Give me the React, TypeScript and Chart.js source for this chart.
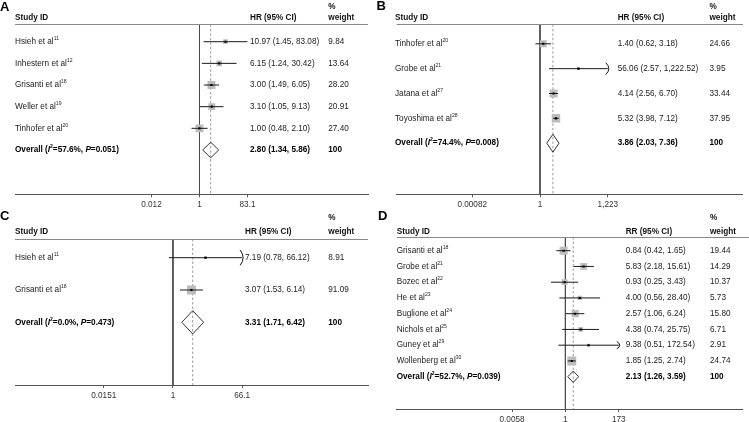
import React, { useEffect, useRef } from "react";
import { Chart, registerables } from "chart.js";

Chart.register(...registerables);

const FONT = '"Liberation Sans", Arial, Helvetica, sans-serif';
const FS = 8.2;

// ---------- Panel A ----------
const namesA = ["Hsieh et al", "Inhestern et al", "Grisanti et al", "Weller et al", "Tinhofer et al"];
const refsA = ["11", "12", "18", "19", "20"];
const estA = [10.97, 6.15, 3.0, 3.1, 1.0];
const lowA = [1.45, 1.24, 1.49, 1.05, 0.48];
const highA = [83.08, 30.42, 6.05, 9.13, 2.1];
const weightA = [9.84, 13.64, 28.2, 20.91, 27.4];
const arrowA = [false, false, false, false, false];
const overallA = [2.8, 1.34, 5.86];
const i2A = "57.6%";
const pA = "0.051";
const ticksA = [0.012, 1, 83.1];
const tickLabelsA = ["0.012", "1", "83.1"];

// ---------- Panel B ----------
const namesB = ["Tinhofer et al", "Grobe et al", "Jatana et al", "Toyoshima et al"];
const refsB = ["20", "21", "27", "28"];
const estB = [1.4, 56.06, 4.14, 5.32];
const lowB = [0.62, 2.57, 2.56, 3.98];
const highB = [3.18, 1222.52, 6.7, 7.12];
const weightB = [24.66, 3.95, 33.44, 37.95];
const arrowB = [false, true, false, false];
const overallB = [3.86, 2.03, 7.36];
const i2B = "74.4%";
const pB = "0.008";
const ticksB = [0.00082, 1, 1223];
const tickLabelsB = ["0.00082", "1", "1,223"];

// ---------- Panel C ----------
const namesC = ["Hsieh et al", "Grisanti et al"];
const refsC = ["11", "18"];
const estC = [7.19, 3.07];
const lowC = [0.78, 1.53];
const highC = [66.12, 6.14];
const weightC = [8.91, 91.09];
const arrowC = [true, false];
const overallC = [3.31, 1.71, 6.42];
const i2C = "0.0%";
const pC = "0.473";
const ticksC = [0.0151, 1, 66.1];
const tickLabelsC = ["0.0151", "1", "66.1"];

// ---------- Panel D ----------
const namesD = ["Grisanti et al", "Grobe et al", "Bozec et al", "He et al", "Buglione et al", "Nichols et al", "Guney et al", "Wollenberg et al"];
const refsD = ["18", "21", "22", "23", "24", "25", "29", "30"];
const estD = [0.84, 5.83, 0.93, 4.0, 2.57, 4.38, 9.38, 1.85];
const lowD = [0.42, 2.18, 0.25, 0.56, 1.06, 0.74, 0.51, 1.25];
const highD = [1.65, 15.61, 3.43, 28.4, 6.24, 25.75, 172.54, 2.74];
const weightD = [19.44, 14.29, 10.37, 5.73, 15.8, 6.71, 2.91, 24.74];
const arrowD = [false, false, false, false, false, false, true, false];
const overallD = [2.13, 1.26, 3.59];
const i2D = "52.7%";
const pD = "0.039";
const ticksD = [0.0058, 1, 173];
const tickLabelsD = ["0.0058", "1", "173"];

type Panel = {
  letter: string; measure: string; names: string[]; refs: string[];
  est: number[]; low: number[]; high: number[]; weight: number[]; arrow: boolean[];
  overall: number[]; i2: string; pval: string; ticks: number[]; tickLabels: string[];
};

const panels: Panel[] = [
  { letter: "A", measure: "HR (95% CI)", names: namesA, refs: refsA, est: estA, low: lowA, high: highA, weight: weightA, arrow: arrowA, overall: overallA, i2: i2A, pval: pA, ticks: ticksA, tickLabels: tickLabelsA },
  { letter: "B", measure: "HR (95% CI)", names: namesB, refs: refsB, est: estB, low: lowB, high: highB, weight: weightB, arrow: arrowB, overall: overallB, i2: i2B, pval: pB, ticks: ticksB, tickLabels: tickLabelsB },
  { letter: "C", measure: "HR (95% CI)", names: namesC, refs: refsC, est: estC, low: lowC, high: highC, weight: weightC, arrow: arrowC, overall: overallC, i2: i2C, pval: pC, ticks: ticksC, tickLabels: tickLabelsC },
  { letter: "D", measure: "RR (95% CI)", names: namesD, refs: refsD, est: estD, low: lowD, high: highD, weight: weightD, arrow: arrowD, overall: overallD, i2: i2D, pval: pD, ticks: ticksD, tickLabels: tickLabelsD },
];

type Layout = {
  left: number; top: number; w: number; h: number;
  letterX: number; letterY: number; headY: number; pctY: number;
  headLineY: number; headLineRight: number; firstRow: number; rowStep: number; axisY: number;
  xLeft: number; xRight: number; x1: number; ppd: number;
  colLabel: number; colHR: number; colWt: number; boxMax: number;
};

const layouts: Layout[] = [
  { left: 0, top: 0, w: 375, h: 211, letterX: 0, letterY: 7, headY: 17.5, pctY: 6.5, headLineY: 24.3, headLineRight: 368, firstRow: 41.7, rowStep: 21.66, axisY: 194.3, xLeft: 15, xRight: 368, x1: 199.5, ppd: 25, colLabel: 15, colHR: 250, colWt: 328.3, boxMax: 8 },
  { left: 375, top: 0, w: 374, h: 211, letterX: 1.5, letterY: 6.5, headY: 17.5, pctY: 6.5, headLineY: 24.3, headLineRight: 368, firstRow: 43.8, rowStep: 24.85, axisY: 194.3, xLeft: 21.7, xRight: 374, x1: 167.5, ppd: 22.35, colLabel: 20, colHR: 242.7, colWt: 334.5, boxMax: 8.5 },
  { left: 0, top: 211, w: 375, h: 211, letterX: 0, letterY: 5.5, headY: 20.5, pctY: 7, headLineY: 28, headLineRight: 368, firstRow: 46.7, rowStep: 32.3, axisY: 174, xLeft: 15, xRight: 368, x1: 172.5, ppd: 38.1, colLabel: 15, colHR: 245, colWt: 328.3, boxMax: 9 },
  { left: 375, top: 211, w: 374, h: 211, letterX: 3, letterY: 5, headY: 20.5, pctY: 7, headLineY: 26, headLineRight: 374, firstRow: 39.7, rowStep: 15.75, axisY: 198, xLeft: 21.7, xRight: 374, x1: 193.5, ppd: 24.3, colLabel: 21.7, colHR: 250.7, colWt: 335, boxMax: 9 },
];

const fmt = (v: number) =>
  v.toLocaleString("en-US", { minimumFractionDigits: 2, maximumFractionDigits: 2 });

type Seg = { t: string; it?: boolean; sup?: boolean };
function drawRich(ctx: CanvasRenderingContext2D, segs: Seg[], x: number, y: number, bold: boolean) {
  let cx = x;
  for (const s of segs) {
    const sz = s.sup ? FS * 0.62 : FS;
    ctx.font = `${s.it ? "italic " : ""}${bold ? "bold " : ""}${sz}px ${FONT}`;
    ctx.fillText(s.t, cx, s.sup ? y - FS * 0.38 : y);
    cx += ctx.measureText(s.t).width;
  }
}

function makeChart(canvas: HTMLCanvasElement, P: Panel, L: Layout) {
  const n = P.est.length;
  const oRow = n + 1;
  const yMin = 1 - (L.firstRow - L.headLineY) / L.rowStep;
  const yMax = 1 + (L.axisY - L.firstRow) / L.rowStep;
  const xMin = Math.pow(10, (L.xLeft - L.x1) / L.ppd);
  const xMax = Math.pow(10, (L.xRight - L.x1) / L.ppd);
  const wMax = Math.max(...P.weight);
  const [oEst, oLow, oHigh] = P.overall;
  const dh = 0.36;

  const ciSets = P.est.map((_, i) => ({
    data: [{ x: P.low[i], y: i + 1 }, { x: P.high[i], y: i + 1 }],
    showLine: true, borderColor: "#1a1a1a", borderWidth: 1, pointRadius: 0,
  }));

  const datasets: any[] = [
    {
      data: P.est.map((e, i) => ({ x: e, y: i + 1 })),
      showLine: false, pointStyle: "rect", pointRadius: 1.5,
      pointBackgroundColor: "#000", backgroundColor: "#000", pointBorderWidth: 0,
    },
    {
      data: [
        { x: oLow, y: oRow }, { x: oEst, y: oRow - dh }, { x: oHigh, y: oRow },
        { x: oEst, y: oRow + dh }, { x: oLow, y: oRow },
      ],
      showLine: true, borderColor: "#333", borderWidth: 1, pointRadius: 0, fill: false, tension: 0,
    },
    ...ciSets,
    {
      data: P.est.map((e, i) => ({ x: e, y: i + 1 })),
      showLine: false, pointStyle: "rect",
      pointRadius: P.weight.map((w) => (L.boxMax * Math.sqrt(w / wMax)) / Math.SQRT2),
      pointBackgroundColor: "#bcbcbc", backgroundColor: "#bcbcbc", pointBorderWidth: 0,
    },
    {
      data: [{ x: oEst, y: yMin }, { x: oEst, y: yMax }],
      showLine: true, borderColor: "#9a9a9a", borderWidth: 1, borderDash: [2.5, 2], pointRadius: 0,
    },
    {
      data: [{ x: 1, y: yMin }, { x: 1, y: yMax }],
      showLine: true, borderColor: "#4a4a4a", borderWidth: 1, pointRadius: 0,
    },
  ];

  const textPlugin = {
    id: "forestText" + P.letter,
    afterDraw(chart: any) {
      const ctx: CanvasRenderingContext2D = chart.ctx;
      const xs = chart.scales.x;
      const ys = chart.scales.y;
      ctx.save();
      ctx.textBaseline = "middle";
      ctx.textAlign = "left";
      ctx.fillStyle = "#000";
      ctx.font = `bold 13px ${FONT}`;
      ctx.fillText(P.letter, L.letterX, L.letterY);
      ctx.font = `bold ${FS}px ${FONT}`;
      ctx.fillStyle = "#111";
      ctx.fillText("Study ID", L.colLabel, L.headY);
      ctx.fillText(P.measure, L.colHR, L.headY);
      ctx.fillText("%", L.colWt, L.pctY);
      ctx.fillText("weight", L.colWt, L.headY);
      const hy = Math.round(L.headLineY) + 0.5;
      ctx.strokeStyle = "#888";
      ctx.lineWidth = 1;
      ctx.beginPath();
      ctx.moveTo(L.xLeft, hy);
      ctx.lineTo(L.headLineRight, hy);
      ctx.stroke();

      ctx.fillStyle = "#222";
      P.names.forEach((nm, i) => {
        const y = ys.getPixelForValue(i + 1);
        drawRich(ctx, [{ t: nm }, { t: P.refs[i], sup: true }], L.colLabel, y, false);
        ctx.font = `${FS}px ${FONT}`;
        ctx.fillText(`${fmt(P.est[i])} (${fmt(P.low[i])}, ${fmt(P.high[i])})`, L.colHR, y);
        ctx.fillText(P.weight[i].toFixed(2), L.colWt, y);
      });
      const oy = ys.getPixelForValue(oRow);
      ctx.fillStyle = "#000";
      drawRich(ctx, [
        { t: "Overall (" }, { t: "I", it: true }, { t: "2", sup: true },
        { t: `=${P.i2}, ` }, { t: "P", it: true }, { t: `=${P.pval})` },
      ], L.colLabel, oy, true);
      ctx.font = `bold ${FS}px ${FONT}`;
      ctx.fillText(`${fmt(oEst)} (${fmt(oLow)}, ${fmt(oHigh)})`, L.colHR, oy);
      ctx.fillText("100", L.colWt, oy);

      ctx.strokeStyle = "#111";
      P.arrow.forEach((a, i) => {
        if (!a) return;
        const xx = xs.getPixelForValue(P.high[i]);
        const yy = ys.getPixelForValue(i + 1);
        const hh = 0.235 * L.rowStep;
        ctx.beginPath();
        ctx.moveTo(xx - 2, yy - hh);
        ctx.quadraticCurveTo(xx + 4, yy, xx - 2, yy + hh);
        ctx.stroke();
      });
      ctx.restore();
    },
  };

  return new Chart(canvas, {
    type: "scatter",
    data: { datasets },
    options: {
      animation: false,
      responsive: false,
      devicePixelRatio: 1,
      events: [],
      layout: { padding: { left: L.xLeft, right: L.w - L.xRight, top: L.headLineY, bottom: 0 } },
      plugins: { legend: { display: false }, tooltip: { enabled: false } },
      scales: {
        x: {
          type: "logarithmic",
          min: xMin,
          max: xMax,
          position: "bottom",
          afterBuildTicks: (s: any) => {
            s.ticks = P.ticks.map((v) => ({ value: v }));
          },
          afterFit: (s: any) => {
            s.height = L.h - L.axisY;
          },
          ticks: {
            callback: (_v: any, i: number) => P.tickLabels[i],
            autoSkip: false, maxRotation: 0, minRotation: 0, padding: 2.5,
            color: "#333", font: { family: FONT, size: FS },
          },
          grid: { display: true, drawOnChartArea: false, drawTicks: true, tickLength: 3, color: "#555" },
          border: { display: true, color: "#555", width: 1 },
        },
        y: { type: "linear", reverse: true, min: yMin, max: yMax, display: false },
      },
    } as any,
    plugins: [textPlugin],
  });
}

export default function App() {
  const refs = [useRef<HTMLCanvasElement>(null), useRef<HTMLCanvasElement>(null), useRef<HTMLCanvasElement>(null), useRef<HTMLCanvasElement>(null)];
  useEffect(() => {
    const charts = refs.map((r, i) => makeChart(r.current as HTMLCanvasElement, panels[i], layouts[i]));
    return () => charts.forEach((c) => c.destroy());
  }, []);
  return (
    <div style={{ position: "absolute", left: 0, top: 0, width: 749, height: 422, background: "#fff", overflow: "hidden" }}>
      {layouts.map((L, i) => (
        <canvas
          key={i}
          ref={refs[i]}
          width={L.w}
          height={L.h}
          style={{ position: "absolute", left: L.left, top: L.top, width: L.w, height: L.h, display: "block" }}
        />
      ))}
    </div>
  );
}
